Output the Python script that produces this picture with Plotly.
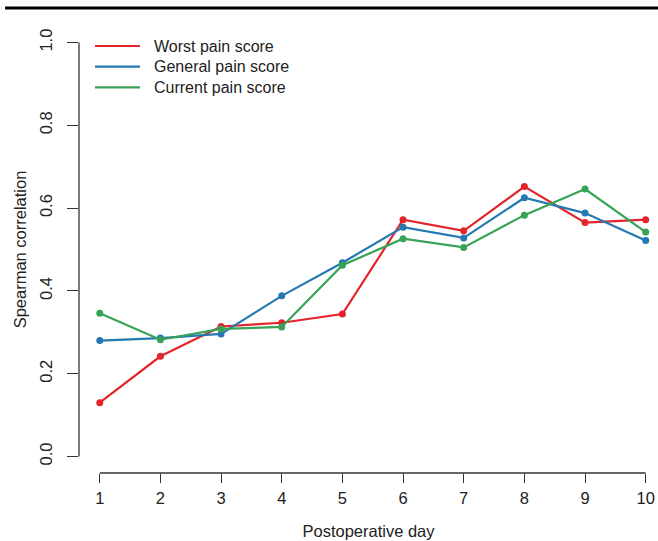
import plotly.graph_objects as go

days = [1, 2, 3, 4, 5, 6, 7, 8, 9, 10]
worst = [0.130, 0.242, 0.314, 0.323, 0.344, 0.572, 0.545, 0.652, 0.565, 0.572]
general = [0.280, 0.286, 0.296, 0.388, 0.468, 0.554, 0.528, 0.625, 0.588, 0.522]
current = [0.346, 0.282, 0.308, 0.313, 0.462, 0.526, 0.505, 0.583, 0.646, 0.542]
series_names = ["Worst pain score", "General pain score", "Current pain score"]
colors = ["#E3242B", "#2479B2", "#36A356"]
y_ticks = [0.0, 0.2, 0.4, 0.6, 0.8, 1.0]
y_ticklabels = ["0.0", "0.2", "0.4", "0.6", "0.8", "1.0"]

FONT = "Liberation Sans, Arial, sans-serif"
W, H = 658, 541
ml, mr, mt, mb = 79, 0, 26, 68

fig = go.Figure()
for name, vals, col in zip(series_names, [worst, general, current], colors):
    fig.add_trace(go.Scatter(
        x=days, y=vals, mode="lines+markers", name=name,
        line=dict(color=col, width=2.2),
        marker=dict(color=col, size=7),
        showlegend=False, cliponaxis=False,
    ))

# axis lines R-style (span first to last tick)
fig.add_shape(type="line", xref="x", yref="paper", x0=days[0], x1=days[-1], y0=0, y1=0,
              line=dict(color="#333333", width=1.3))
fig.add_shape(type="line", xref="paper", yref="y", x0=0, x1=0, y0=y_ticks[0], y1=y_ticks[-1],
              line=dict(color="#333333", width=1.3))
# top rule
pw = W - ml - mr
ph = H - mt - mb
fig.add_shape(type="line", xref="paper", yref="paper", x0=-(ml - 5) / pw, x1=1,
              y0=1 + (mt - 8) / ph, y1=1 + (mt - 8) / ph,
              line=dict(color="black", width=3))

def px_to_paper_x(px):
    return (px - ml) / pw
def px_to_paper_y(py):
    return 1 - (py - mt) / ph

# custom legend (R style: lines only)
for i, (name, col) in enumerate(zip(series_names, colors)):
    ypix = 46 + i * 20.7
    fig.add_shape(type="line", xref="paper", yref="paper",
                  x0=px_to_paper_x(95), x1=px_to_paper_x(140),
                  y0=px_to_paper_y(ypix), y1=px_to_paper_y(ypix),
                  line=dict(color=col, width=2.2))
    fig.add_annotation(xref="paper", yref="paper", x=px_to_paper_x(152), y=px_to_paper_y(ypix),
                       text=name, showarrow=False, xanchor="left", yanchor="middle",
                       font=dict(family=FONT, size=16, color="#222222"))

fig.update_layout(
    width=W, height=H,
    margin=dict(l=ml, r=mr, t=mt, b=mb),
    paper_bgcolor="white", plot_bgcolor="white",
    font=dict(family=FONT, size=16, color="#222222"),
    xaxis=dict(range=[0.658, 10.203], tickvals=days, ticktext=[str(d) for d in days],
               ticks="outside", ticklen=9, tickwidth=1.3, tickcolor="#333333",
               showline=False, showgrid=False, zeroline=False, automargin=False,
               ticklabelstandoff=1,
               tickfont=dict(family=FONT, size=16.5),
               title=dict(text="Postoperative day", font=dict(family=FONT, size=16.5), standoff=19)),
    yaxis=dict(range=[-0.04, 1.04], tickvals=y_ticks, ticktext=y_ticklabels,
               ticks="outside", ticklen=11, tickwidth=1.3, tickcolor="#333333",
               tickangle=-90, automargin=False, ticklabelstandoff=8,
               showline=False, showgrid=False, zeroline=False,
               tickfont=dict(family=FONT, size=16.5),
               title=dict(text="Spearman correlation", font=dict(family=FONT, size=16.5), standoff=6)),
)

fig.write_html("out.html", config={"displayModeBar": False},
               post_script="document.body.style.margin='0px';")
